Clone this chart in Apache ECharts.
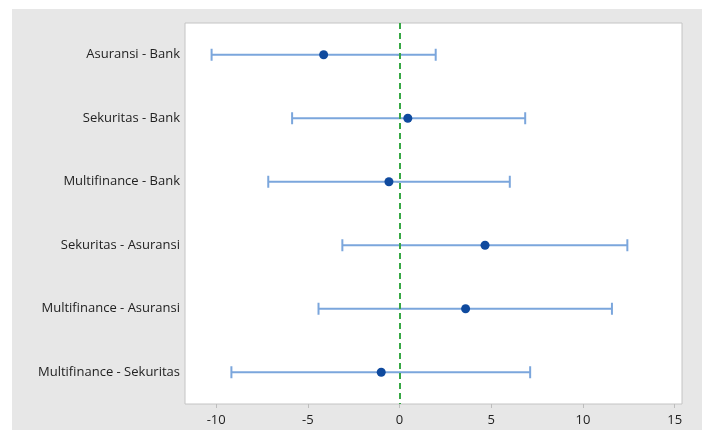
<!DOCTYPE html>
<html>
<head>
<meta charset="utf-8">
<script src="https://cdn.jsdelivr.net/npm/echarts@6/dist/echarts.min.js"></script>
<style>
    html, body { margin: 0; padding: 0; background: #fff; }
    #wrap { position: relative; width: 702px; height: 441px; background: #fff; }
    #chart { position: absolute; left: 12px; top: 9px; width: 690px; height: 421px; background: #e7e7e7; }
</style>
</head>
<body>
<div id="wrap"><div id="chart"></div></div>
<script>
// pasangan yang dibandingkan (urutan dari atas)
var categories = [
    'Asuransi - Bank',
    'Sekuritas - Bank',
    'Multifinance - Bank',
    'Sekuritas - Asuransi',
    'Multifinance - Asuransi',
    'Multifinance - Sekuritas'
];
// selisih rata-rata dan batas interval
var centers = [-4.14, 0.45, -0.58, 4.66, 3.60, -1.00];
var lowers  = [-10.25, -5.86, -7.16, -3.12, -4.42, -9.17];
var uppers  = [1.97, 6.85, 6.01, 12.42, 11.58, 7.12];
var xTicks  = [-10, -5, 0, 5, 10, 15];

var chart = echarts.init(document.getElementById('chart'));

var intervalData = categories.map(function(c, i) {
    return [lowers[i], uppers[i], i];
});
var pointData = categories.map(function(c, i) {
    return [centers[i], i];
});

var option = {
    animation: false,
    grid: {
        left: 173,
        right: 20,
        top: 14,
        bottom: 26,
        show: true,
        backgroundColor: '#fff',
        borderColor: '#c4c4c4',
        borderWidth: 1
    },
    xAxis: {
        type: 'value',
        min: -11.7,
        max: 15.4,
        splitLine: { show: false },
        axisLine: { show: false },
        axisTick: {
            show: true,
            length: 4,
            customValues: xTicks,
            lineStyle: { color: '#bdbdbd' }
        },
        axisLabel: {
            customValues: xTicks,
            color: '#222',
            fontFamily: 'Open Sans',
            fontSize: 13,
            margin: 10
        }
    },
    yAxis: {
        type: 'category',
        data: categories,
        inverse: true,
        boundaryGap: true,
        axisLine: { show: false },
        axisTick: {
            show: true,
            alignWithLabel: true,
            length: 3,
            lineStyle: { color: '#c4c4c4' }
        },
        axisLabel: {
            color: '#222',
            fontFamily: 'Open Sans',
            fontSize: 13,
            margin: 5
        },
        splitLine: { show: false }
    },
    series: [
        {
            type: 'custom',
            z: 2,
            data: intervalData,
            encode: { x: [0, 1], y: 2 },
            renderItem: function(params, api) {
                var idx = api.value(2);
                var lo = api.coord([api.value(0), idx]);
                var hi = api.coord([api.value(1), idx]);
                var h = 6;
                var style = { stroke: '#7ba6dc', lineWidth: 2 };
                return {
                    type: 'group',
                    children: [
                        { type: 'line', shape: { x1: lo[0], y1: lo[1], x2: hi[0], y2: hi[1] }, style: style },
                        { type: 'line', shape: { x1: lo[0], y1: lo[1] - h, x2: lo[0], y2: lo[1] + h }, style: style },
                        { type: 'line', shape: { x1: hi[0], y1: hi[1] - h, x2: hi[0], y2: hi[1] + h }, style: style }
                    ]
                };
            }
        },
        {
            type: 'scatter',
            z: 4,
            symbolSize: 9,
            itemStyle: { color: '#0f4a9e', opacity: 1 },
            data: pointData,
            markLine: {
                silent: true,
                symbol: 'none',
                label: { show: false },
                lineStyle: { color: '#37a845', type: [6, 4], width: 2, opacity: 1 },
                data: [{ xAxis: 0 }]
            }
        }
    ]
};
chart.setOption(option);
</script>
</body>
</html>
